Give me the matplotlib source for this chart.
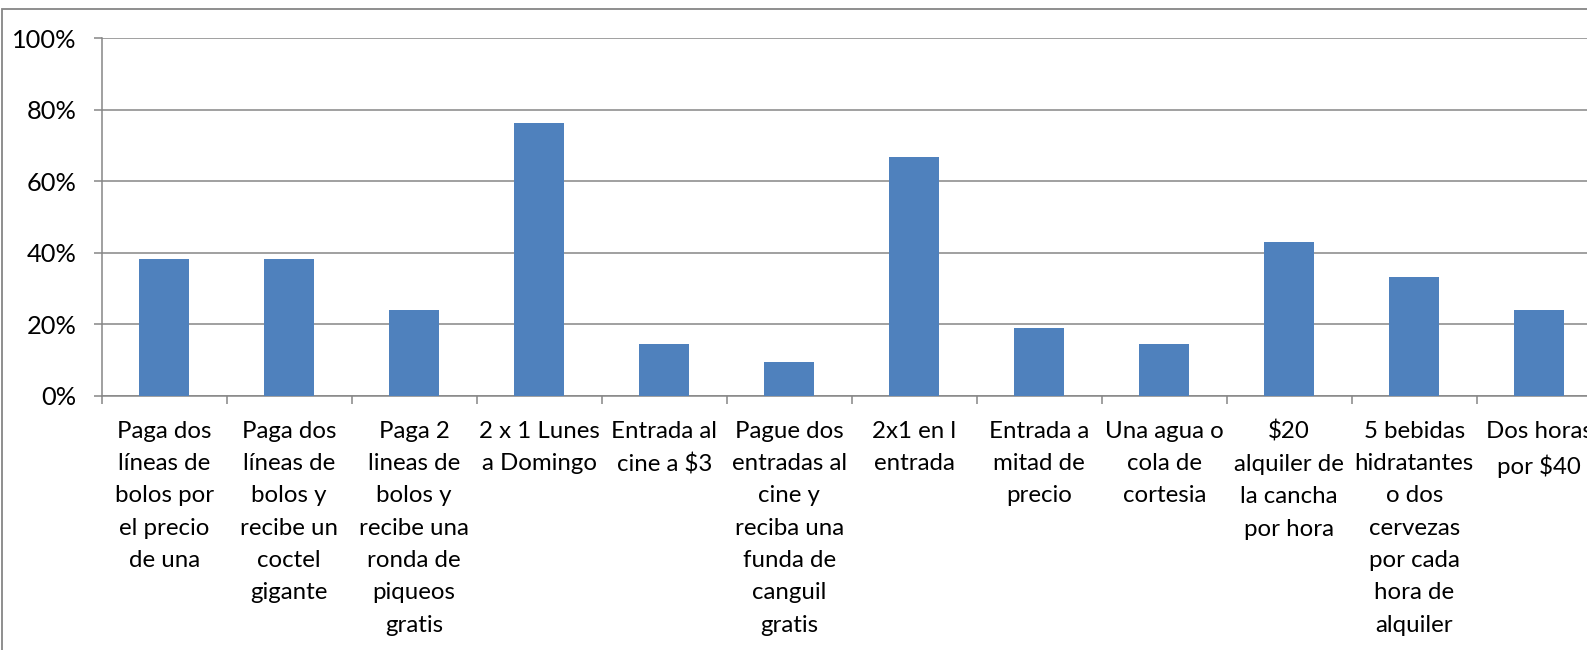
import matplotlib
matplotlib.use("Agg")
import matplotlib.pyplot as plt
from matplotlib.patches import Rectangle
from matplotlib.ticker import FixedLocator, PercentFormatter
import numpy as np

# labels as wrapped in the source chart
categories = [
    "Paga dos\nlíneas de\nbolos por\nel precio\nde una",
    "Paga dos\nlíneas de\nbolos y\nrecibe un\ncoctel\ngigante",
    "Paga 2\nlineas de\nbolos y\nrecibe una\nronda de\npiqueos\ngratis",
    "2 x 1 Lunes\na Domingo",
    "Entrada al\ncine a $3",
    "Pague dos\nentradas al\ncine y\nreciba una\nfunda de\ncanguil\ngratis",
    "2x1 en l\nentrada",
    "Entrada a\nmitad de\nprecio",
    "Una agua o\ncola de\ncortesia",
    "$20\nalquiler de\nla cancha\npor hora",
    "5 bebidas\nhidratantes\no dos\ncervezas\npor cada\nhora de\nalquiler",
    "Dos horas\npor $40",
]
percent = [38.1, 38.1, 23.8, 76.2, 14.3, 9.5, 66.7, 19.0, 14.3, 42.9, 33.3, 23.8]
y_ticks = [0, 20, 40, 60, 80, 100]

BAR = "#4F81BD"
GRID = "#868686"
FONT = "Lato"
FS = 17.3

W, H = 1587, 650
fig = plt.figure(figsize=(W / 100, H / 100), dpi=100)

# plot area runs past the right edge, like the cropped original
left, right = 101.7, 1601.7
top, bottom = 38.3, 395.5
ax = fig.add_axes([left / W, (H - bottom) / H, (right - left) / W, (bottom - top) / H])

x = np.arange(len(categories))
ax.bar(x, percent, width=0.4, color=BAR, zorder=3)

ax.set_xlim(-0.5, len(categories) - 0.5)
ax.set_ylim(0, 100)
ax.set_yticks(y_ticks)
ax.yaxis.set_major_formatter(PercentFormatter(decimals=0))
ax.yaxis.grid(True, color=GRID, linewidth=1.1, zorder=0)

# ticks between categories, labels centred on the bars
ax.xaxis.set_major_locator(FixedLocator(np.arange(len(categories) + 1) - 0.5))
ax.xaxis.set_major_formatter(plt.NullFormatter())
ax.xaxis.set_minor_locator(FixedLocator(x))
ax.set_xticklabels(categories, minor=True)
ax.tick_params(axis="x", which="major", length=6, width=1.1, color=GRID, direction="out")
ax.tick_params(axis="x", which="minor", length=0, pad=18)
ax.tick_params(axis="y", length=6, width=1.1, color=GRID, pad=12)

for lbl in ax.get_xticklabels(minor=True):
    lbl.set_fontfamily(FONT)
    lbl.set_fontsize(FS)
    lbl.set_linespacing(1.67)
    lbl.set_horizontalalignment("center")
for lbl in ax.get_yticklabels():
    lbl.set_fontfamily(FONT)
    lbl.set_fontsize(18.3)

for side in ["top", "right"]:
    ax.spines[side].set_visible(False)
for side in ["left", "bottom"]:
    ax.spines[side].set_color(GRID)
    ax.spines[side].set_linewidth(1.1)

# outer chart border (only top and left visible in the crop)
fig.patches.append(Rectangle((1.5 / W, -0.1), 1.2, (H - 9) / H + 0.1,
                             transform=fig.transFigure, fill=False,
                             edgecolor=GRID, linewidth=1.3))

fig.savefig("out.png", dpi=100)
